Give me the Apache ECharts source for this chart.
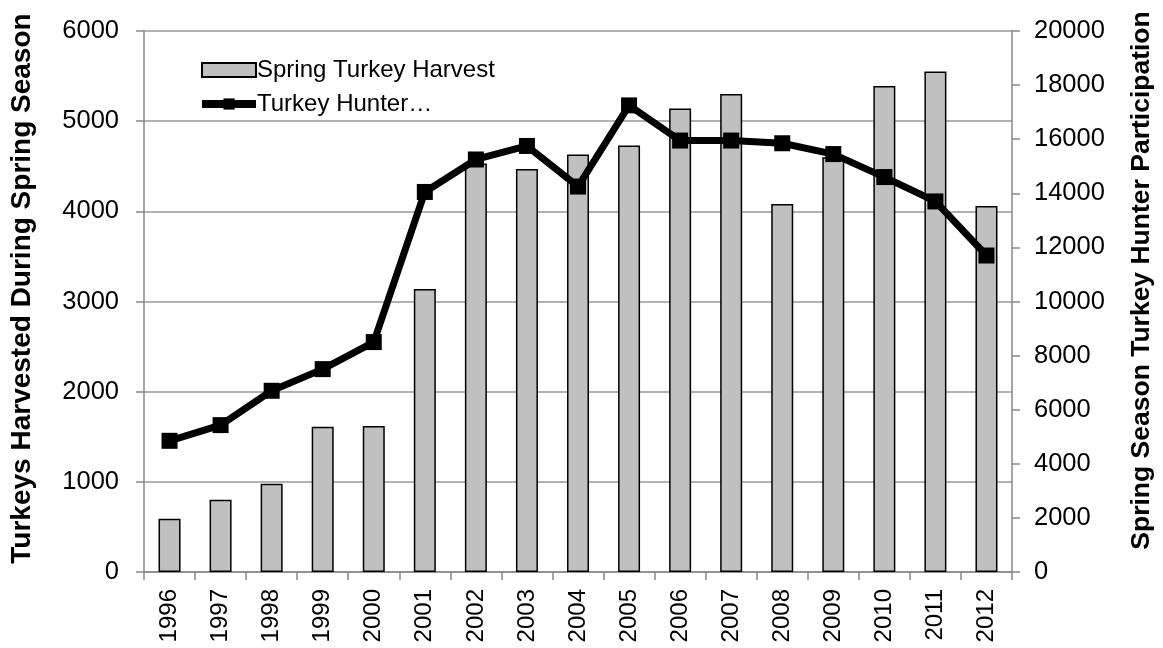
<!DOCTYPE html>
<html>
<head>
<meta charset="utf-8">
<script src="https://cdn.jsdelivr.net/npm/echarts@6/dist/echarts.min.js"></script>
<style>
html,body{margin:0;padding:0;background:#fff;}
#chart{width:1163px;height:648px;}
</style>
</head>
<body>
<div id="chart"></div>
<script>
const years = ['1996','1997','1998','1999','2000','2001','2002','2003','2004','2005','2006','2007','2008','2009','2010','2011','2012'];
const harvest = [590, 800, 980, 1610, 1620, 3140, 4530, 4470, 4630, 4730, 5140, 5300, 4080, 4600, 5390, 5550, 4060];
const hunters = [4850, 5430, 6700, 7500, 8500, 14050, 15250, 15750, 14250, 17250, 15950, 15950, 15850, 15450, 14600, 13700, 11700];
const harvestName = 'Spring Turkey Harvest';
const huntersName = 'Turkey Hunter…';
const leftTitle = 'Turkeys Harvested During Spring Season';
const rightTitle = 'Spring Season Turkey Hunter Participation';

const FONT = 'Liberation Sans';
const plain = v => String(v);
const chart = echarts.init(document.getElementById('chart'), null, {renderer: 'canvas'});
chart.setOption({
  animation: false,
  backgroundColor: '#ffffff',
  textStyle: {fontFamily: FONT, color: '#000'},
  grid: {left: 144, right: 148, top: 31, bottom: 76, containLabel: false},
  legend: {
    orient: 'vertical',
    left: 193,
    top: 53,
    itemWidth: 54,
    itemHeight: 14,
    itemGap: 10,
    textStyle: {fontFamily: FONT, fontSize: 24, color: '#000', padding: [0, 0, 0, -4]},
    data: [
      {name: harvestName, icon: 'rect'},
      {name: huntersName, lineStyle: {width: 8, color: '#000'}, itemStyle: {color: '#000'}}
    ]
  },
  xAxis: {
    type: 'category',
    data: years,
    boundaryGap: true,
    axisLine: {show: true, lineStyle: {color: '#888', width: 1.5}},
    axisTick: {show: true, interval: 0, length: 8, lineStyle: {color: '#888', width: 1.5}},
    axisLabel: {interval: 0, rotate: 90, fontSize: 24, color: '#000', margin: 17, fontFamily: FONT}
  },
  yAxis: [
    {
      type: 'value', min: 0, max: 6000, interval: 1000,
      position: 'left',
      name: leftTitle, nameLocation: 'middle', nameGap: 108, nameRotate: 90,
      nameTextStyle: {fontSize: 28, fontWeight: 'bold', color: '#000', fontFamily: FONT, padding: [0, 0, 0, 26]},
      axisLine: {show: true, lineStyle: {color: '#888', width: 1.5}},
      axisTick: {show: true, length: 8, lineStyle: {color: '#888', width: 1.5}},
      axisLabel: {fontSize: 25.5, color: '#000', margin: 25, fontFamily: FONT, formatter: plain},
      splitLine: {show: true, lineStyle: {color: '#999', width: 1.5}}
    },
    {
      type: 'value', min: 0, max: 20000, interval: 2000,
      position: 'right',
      name: rightTitle, nameLocation: 'middle', nameGap: 116, nameRotate: 90,
      nameTextStyle: {fontSize: 26.5, fontWeight: 'bold', color: '#000', fontFamily: FONT, padding: [0, 0, 0, 42]},
      axisLine: {show: true, lineStyle: {color: '#888', width: 1.5}},
      axisTick: {show: true, length: 8, lineStyle: {color: '#888', width: 1.5}},
      axisLabel: {fontSize: 25.5, color: '#000', margin: 22, fontFamily: FONT, formatter: plain},
      splitLine: {show: false}
    }
  ],
  series: [
    {
      name: harvestName,
      type: 'bar',
      yAxisIndex: 0,
      data: harvest,
      barWidth: 22,
      itemStyle: {color: '#c0c0c0', borderColor: '#000', borderWidth: 1.5}
    },
    {
      name: huntersName,
      type: 'line',
      yAxisIndex: 1,
      data: hunters,
      symbol: 'rect',
      symbolSize: 16,
      z: 5,
      lineStyle: {color: '#000', width: 7},
      itemStyle: {color: '#000'}
    }
  ]
});
</script>
</body>
</html>
